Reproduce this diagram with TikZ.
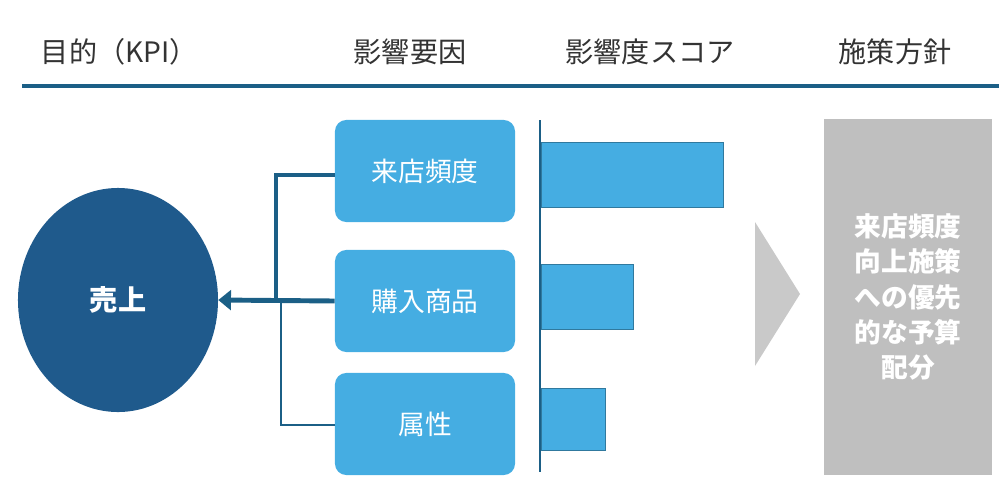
\documentclass[tikz,border=0pt]{standalone}
\usepackage{fontspec}
\setmainfont{Noto Sans CJK JP}
\usetikzlibrary{arrows.meta,shapes.geometric}
\definecolor{darkblue}{HTML}{1F5A8C}
\definecolor{lineblue}{HTML}{1B5F86}
\definecolor{lightblue}{HTML}{45ADE2}
\definecolor{greybox}{HTML}{BFBFBF}
\begin{document}
\begin{tikzpicture}[
            x=0.025cm, y=-0.025cm,
            head/.style={font=\fontsize{20}{24}\selectfont, text=black!80},
            factor box/.style={rounded corners=8pt, fill=lightblue, text=white, font=\fontsize{19}{22}\selectfont},
            score bar/.style={fill=lightblue, draw=lightblue!70!black, line width=0.6pt},
            main link/.style={draw=lineblue, line width=3.5pt},
            thin link/.style={draw=lineblue, line width=0.8pt},
        ]
            \useasboundingbox (0,0) rectangle (999,488);
            % header
            \node[head, anchor=west] (hkpi) at (36,52) {目的（KPI）};
            \node[head] (hfactor) at (410,52) {影響要因};
            \node[head] (hscore) at (650,52) {影響度スコア};
            \node[head] (hplan) at (895,52) {施策方針};
            \coordinate (rulel) at (22,86);
            \coordinate (ruler) at (999,86);
            \draw[lineblue, line width=2.5pt] (rulel) -- (ruler);

            % goal
            \node[ellipse, fill=darkblue, minimum width=5cm, minimum height=5.6cm,
                  text=white, font=\bfseries\fontsize{20}{24}\selectfont] (sales) at (118,300) {売上};

            % factors
            \node[factor box, minimum width=4.5cm, minimum height=2.55cm] (f1) at (425,171) {来店頻度};
            \node[factor box, minimum width=4.5cm, minimum height=2.55cm] (f2) at (425,301) {購入商品};
            \node[factor box, minimum width=4.5cm, minimum height=2.55cm] (f3) at (425,424) {属性};

            \coordinate (j1) at (276,175);
            \coordinate (j3) at (281,425);
            \coordinate (jm) at (276,301);
            \path[main link] (f1.west |- j1) -- (j1) -- (jm);
            \path[main link, -{Triangle[length=9pt,width=14pt]}] (f2.west) -- (sales.east);
            \path[thin link] (f3.west |- j3) -- (j3) -- (281,301);

            % scores
            \coordinate (axtop) at (540,120);
            \coordinate (axbot) at (540,472);
            \draw[lineblue, line width=1.5pt] (axtop) -- (axbot);
            \node[score bar, minimum width=4.55cm, minimum height=1.62cm, anchor=west, inner sep=0pt] (b1) at (541,175) {};
            \node[score bar, minimum width=2.3cm, minimum height=1.62cm, anchor=west, inner sep=0pt] (b2) at (541,297) {};
            \node[score bar, minimum width=1.6cm, minimum height=1.55cm, anchor=west, inner sep=0pt] (b3) at (541,419) {};

            % plan
            \fill[greybox!85] (755,222) -- (800,294) -- (755,366) -- cycle;
            \node[fill=greybox, minimum width=4.2cm, minimum height=8.9cm, text=white, align=center,
                  font=\bfseries\fontsize{19}{25}\selectfont] (plan) at (908,297)
                  {来店頻度\\向上施策\\への優先\\的な予算\\配分};
        \end{tikzpicture}
\end{document}
